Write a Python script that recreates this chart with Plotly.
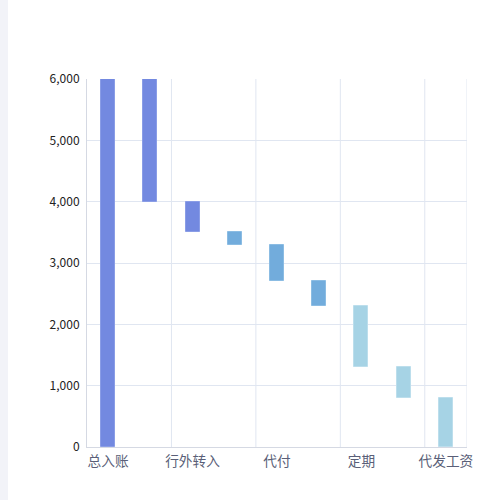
import plotly.graph_objects as go

# categories (only every other label is shown in the chart)
categories = ["总入账", "行内转入", "行外转入", "转账", "代付", "消费", "定期", "理财", "代发工资"]
shown_labels = ["总入账", "行外转入", "代付", "定期", "代发工资"]
bar_base = [0, 4000, 3500, 3300, 2700, 2300, 1300, 800, 0]
bar_top = [6000, 6000, 4000, 3500, 3300, 2700, 2300, 1300, 800]
bar_colors = ["#7389e0", "#7389e0", "#7389e0", "#72acdc", "#72acdc", "#72acdc",
              "#a6d3e5", "#a6d3e5", "#a6d3e5"]
edge_colors = ["#8a9de6", "#8a9de6", "#8a9de6", "#8bbce3", "#8bbce3", "#8bbce3",
               "#bcdeec", "#bcdeec", "#bcdeec"]

heights = [t - b for t, b in zip(bar_top, bar_base)]

fig = go.Figure(go.Bar(
    x=categories, y=heights, base=bar_base, width=0.33,
    marker=dict(color=bar_colors, line=dict(color=edge_colors, width=1)),
    hoverinfo="x+y",
))

ml, mr, mt, mb = 87, 33, 79, 53
pw = 500 - ml - mr

fig.update_layout(
    width=500, height=500,
    margin=dict(l=ml, r=mr, t=mt, b=mb),
    paper_bgcolor="white", plot_bgcolor="white",
    font=dict(family="Noto Sans CJK SC, sans-serif", size=12, color="#333"),
    showlegend=False,
    bargap=0,
    xaxis=dict(
        tickmode="array", tickvals=shown_labels, ticktext=shown_labels,
        tickfont=dict(color="#5a5f78", size=13.7),
        showgrid=False, showline=True, linecolor="#d5d9e3", linewidth=1,
        ticks="", range=[-0.5, 8.5], fixedrange=True, ticklabelstandoff=2,
    ),
    yaxis=dict(
        range=[0, 6000], tickvals=[0, 1000, 2000, 3000, 4000, 5000, 6000],
        tickformat=",d", showgrid=True, gridcolor="#e0e6f1", gridwidth=1,
        showline=True, linecolor="#d5d9e3", zeroline=False, ticks="",
        ticklen=0, tickfont=dict(color="#222", size=12), fixedrange=True,
        ticklabelstandoff=4,
    ),
    shapes=[
        # left grey strip of the page
        dict(type="rect", xref="paper", yref="paper",
             x0=-ml / pw, x1=(8 - ml) / pw, y0=-2, y1=2,
             fillcolor="#f2f3f8", line=dict(width=0), layer="below"),
    ] + [
        # vertical split lines every two categories
        dict(type="line", xref="x", yref="paper", x0=v, x1=v, y0=0, y1=1,
             line=dict(color="#e0e6f1", width=1), layer="below")
        for v in [1.5, 3.5, 5.5, 7.5, 8.5]
    ],
)

fig.write_html("out.html", config={"displayModeBar": False},
               post_script="document.body.style.margin='0';")
